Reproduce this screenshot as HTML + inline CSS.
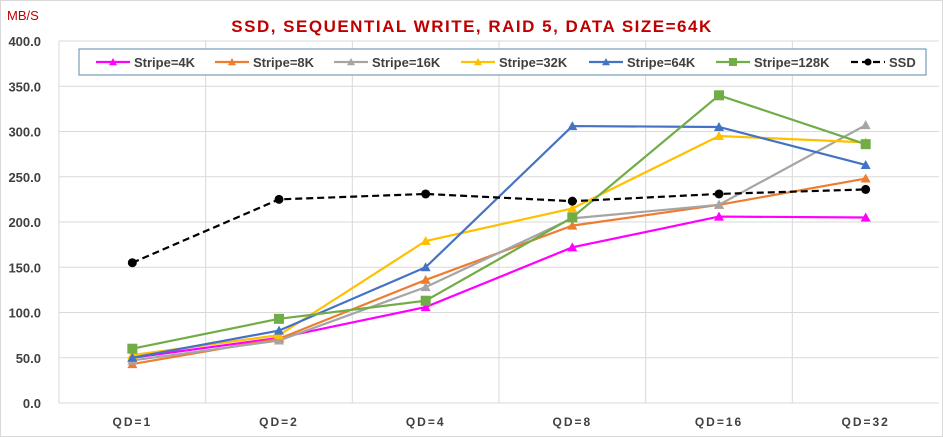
<!DOCTYPE html>
<html><head><meta charset="utf-8"><style>
body{margin:0;background:#fff;font-family:"Liberation Sans",sans-serif}
#c{position:relative;width:943px;height:437px;box-sizing:border-box;border:1px solid #d9d9d9;overflow:hidden}
</style></head><body>
<div id="c">
<svg id="s" width="943" height="437"></svg>
</div>
<script>
const categories=["QD=1","QD=2","QD=4","QD=8","QD=16","QD=32"];
const yTicks=[0,50,100,150,200,250,300,350,400];
const s4K=[50,72,106,172,206,205];
const s8K=[43,71,136,196,219,248];
const s16K=[47,69,128,204,219,307];
const s32K=[53,75,179,215,295,288];
const s64K=[50,80,150,306,305,263];
const s128K=[60,93,113,205,340,286];
const ssd=[155,225,231,223,231,236];
const seriesNames=["Stripe=4K","Stripe=8K","Stripe=16K","Stripe=32K","Stripe=64K","Stripe=128K","SSD"];
const seriesData=[s4K,s8K,s16K,s32K,s64K,s128K,ssd];
const colors=["#ff00ff","#ed7d31","#a5a5a5","#ffc000","#4472c4","#70ad47","#000"];
const markers=["tri","tri","tri","tri","tri","sq","circ"];
const NS="http://www.w3.org/2000/svg";
const svg=document.getElementById('s');
const L=58,R=938,T=40,B=402,step=(R-L)/categories.length;
const x=i=>L+step*(i+0.5);
const y=v=>B-(v/400)*(B-T);
function el(t,a,p){const e=document.createElementNS(NS,t);for(const k in a)e.setAttribute(k,a[k]);(p||svg).appendChild(e);return e;}
yTicks.forEach(v=>{const g=el('line',{x1:L,x2:R,y1:y(v),y2:y(v),stroke:'#d9d9d9','stroke-width':1});

const t=el('text',{x:40,y:y(v)+5,'text-anchor':'end','font-size':13,'font-weight':'bold',fill:'#404040'});t.textContent=v.toFixed(1);
});
for(let i=1;i<categories.length;i++){const g=el('line',{x1:L+step*i,x2:L+step*i,y1:T,y2:B,stroke:'#d9d9d9'});
}
el('line',{x1:L,x2:L,y1:T,y2:B,stroke:'#d9d9d9'});
categories.forEach((c,i)=>{const t=el('text',{x:x(i),y:425,'text-anchor':'middle','font-size':12,'font-weight':'bold',fill:'#404040','letter-spacing':'2'});t.textContent=c;
});
let t=el('text',{x:6,y:19,'font-size':13,fill:'#c00000'});t.textContent='MB/S';

t=el('text',{x:471,y:31,'text-anchor':'middle','font-size':17,'font-weight':'bold',fill:'#c00000','letter-spacing':'1.5'});t.textContent='SSD, SEQUENTIAL WRITE, RAID 5, DATA SIZE=64K';

function marker(type,cx,cy,col,g,sz){sz=sz||5;
if(type=='tri')return el('polygon',{points:`${cx},${cy-sz} ${cx-sz},${cy+sz*0.8} ${cx+sz},${cy+sz*0.8}`,fill:col},g);
if(type=='sq')return el('rect',{x:cx-sz,y:cy-sz,width:sz*2,height:sz*2,fill:col},g);
return el('circle',{cx:cx,cy:cy,r:sz-0.5,fill:col},g);}
seriesData.forEach((d,si)=>{const g=el('g',{});

const p=el('polyline',{points:d.map((v,i)=>x(i)+','+y(v)).join(' '),fill:'none',stroke:colors[si],'stroke-width':2.2,'stroke-dasharray':si==6?'7,4':'none'},g);

d.forEach((v,i)=>{const m=marker(markers[si],x(i),y(v),colors[si],g);
});});
const lg=el('g',{});
el('rect',{x:78,y:48,width:847,height:26,fill:'#fff',stroke:'#5b8aa8'},lg);
const lx=[95,214,333,460,588,715,850];
seriesNames.forEach((n,i)=>{const eg=el('g',{},lg);

el('line',{x1:lx[i],x2:lx[i]+34,y1:61,y2:61,stroke:colors[i],'stroke-width':2.2,'stroke-dasharray':i==6?'7,4':'none'},eg);
marker(markers[i],lx[i]+17,61,colors[i],eg,4);
const tt=el('text',{x:lx[i]+38,y:66,'font-size':13,'font-weight':'bold',fill:'#404040'},eg);tt.textContent=n;});
</script>
</body></html>
